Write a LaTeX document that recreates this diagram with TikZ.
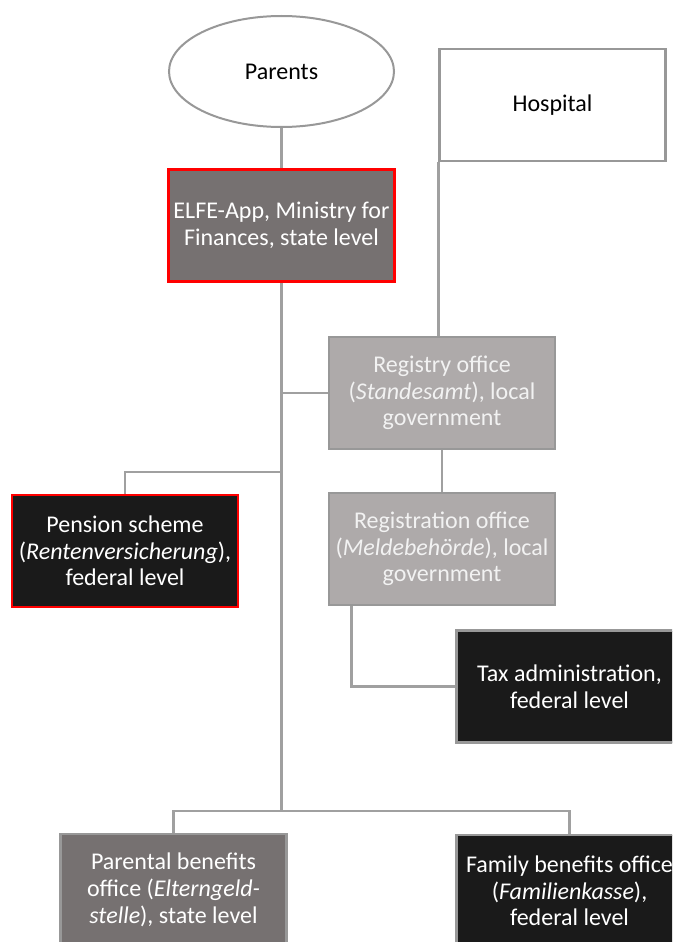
\documentclass[tikz,border=0pt]{standalone}
\usepackage{fontspec}
\setmainfont{Carlito}
\usepackage{xcolor}
\usepackage{tikz}
\usetikzlibrary{shapes.geometric}

\definecolor{linegray}{HTML}{A0A0A0}
\definecolor{edgegray}{HTML}{989898}
\definecolor{midgray}{HTML}{767171}
\definecolor{lightgray}{HTML}{AEAAAA}
\definecolor{darkbox}{HTML}{1A1A1A}
\definecolor{redline}{HTML}{FF0000}

\tikzset{
  box/.style={rectangle, draw=edgegray, line width=2.5pt, minimum width=226pt,
    minimum height=112pt, inner sep=0pt, align=center, text=white,
    font=\fontsize{24}{26.7}\selectfont},
  state/.style={box, fill=midgray},
  local/.style={box, fill=lightgray, text=white!95!black},
  federal/.style={box, fill=darkbox},
  flagged/.style={draw=redline},
  link/.style={draw=linegray, line width=2.5pt}
}

\begin{document}
\begin{tikzpicture}[x=1pt, y=-1pt]
\clip (0,0) rectangle (672,942);
\fill[white] (0,0) rectangle (672,942);

% Start
\node[ellipse, draw=edgegray, line width=2pt, minimum width=225pt, minimum height=111pt,
  inner sep=0pt, font=\fontsize{24}{26.7}\selectfont] (parents) at (281.5,71.5) {Parents};
\node[box, fill=white, text=black] (hospital) at (552.5,105) {Hospital};

% State level
\node[state, flagged] (elfe) at (281.5,225.5) {ELFE-App, Ministry for\\Finances, state level};

% Local government
\node[local] (registry) at (442,393) {Registry office\\(\textit{Standesamt}), local\\government};
\node[local] (registration) at (442,549) {Registration office\\(\textit{Meldebehörde}), local\\government};

% Federal level
\node[federal, flagged] (pension) at (125,551) {Pension scheme\\(\textit{Rentenversicherung}),\\federal level};
\node[federal] (tax) at (569.5,686.5) {Tax administration,\\federal level};

% Benefits
\node[state] (parental) at (173.5,890) {Parental benefits\\office (\textit{Elterngeld-}\\\textit{stelle}), state level};
\node[federal] (family) at (569.5,891) {Family benefits office\\(\textit{Familienkasse}),\\federal level};

% Connectors
\coordinate (penjoin) at (281.5,472);
\coordinate (split) at (281.5,811);
\draw[link] (parents.south) -- (elfe.north);
\draw[link] (elfe.south) -- (split);
\draw[link] (hospital.south west) -- (hospital.south west |- registry.north);
\draw[link] (elfe.south |- registry.west) -- (registry.west);
\draw[link] (pension.north) |- (penjoin);
\draw[link] (registry.south) -- (registration.north);
\draw[link] ([xshift=-90.5pt]registration.south) |- (tax.west);
\draw[link] (split) -| (parental.north);
\draw[link] (split) -| (family.north);
\end{tikzpicture}
\end{document}
